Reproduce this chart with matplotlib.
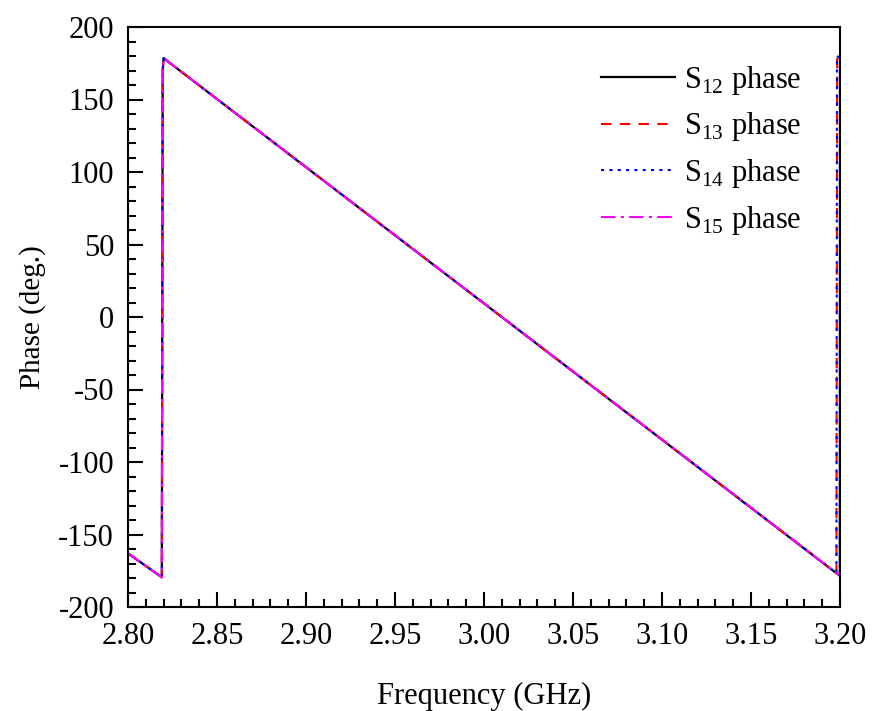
import matplotlib
matplotlib.use("Agg")
import matplotlib.pyplot as plt
from matplotlib.ticker import MultipleLocator

plt.rcParams['font.family'] = ['Liberation Serif', 'DejaVu Serif']
plt.rcParams['mathtext.fontset'] = 'custom'
plt.rcParams['mathtext.rm'] = 'Liberation Serif'
plt.rcParams['axes.unicode_minus'] = False

# Data (frequency in GHz, phase in degrees)
freq_s12 = [2.800, 2.8190, 2.8195, 2.8200, 3.1999, 3.2000]
phase_s12 = [-163.0, -179.5, 170.0, 178.5, -178.5, 180.0]

freq_s13 = [2.800, 2.8190, 2.8195, 2.8200, 3.1980, 3.1984, 3.2000]
phase_s13 = [-163.0, -179.5, 170.0, 178.5, -176.6, 180.0, 178.5]

freq_s14 = [2.800, 2.8190, 2.8195, 2.8200, 3.1980, 3.1983, 3.2000]
phase_s14 = [-163.0, -179.5, 170.0, 178.5, -176.6, 180.0, 178.5]

freq_s15 = [2.800, 2.8190, 2.8195, 2.8200, 3.2000]
phase_s15 = [-163.0, -179.5, 170.0, 178.5, -178.5]

labels = ['S$_{12}$ phase', 'S$_{13}$ phase', 'S$_{14}$ phase', 'S$_{15}$ phase']

fig = plt.figure(figsize=(8.75, 7.11), dpi=100)
ax = fig.add_axes([128/875, 1 - 607/711, (840-128)/875, (607-27)/711])

ax.plot(freq_s12, phase_s12, color='black', lw=1.6, ls='-', label=labels[0])
ax.plot(freq_s13, phase_s13, color='red', lw=1.5, ls=(0, (5, 4)), label=labels[1])
ax.plot(freq_s14, phase_s14, color='blue', lw=1.5, ls=(0, (1.5, 2.5)), label=labels[2])
ax.plot(freq_s15, phase_s15, color='magenta', lw=1.5, ls=(0, (7, 2.5, 1.5, 2.5)), label=labels[3])

ax.set_xlim(2.80, 3.20)
ax.set_ylim(-200, 200)
ax.xaxis.set_major_locator(MultipleLocator(0.05))
ax.xaxis.set_minor_locator(MultipleLocator(0.01))
ax.yaxis.set_major_locator(MultipleLocator(50))
ax.yaxis.set_minor_locator(MultipleLocator(10))
ax.xaxis.set_major_formatter(matplotlib.ticker.FormatStrFormatter('%.2f'))

ax.tick_params(which='both', direction='in', top=False, right=False, labelsize=22)
ax.tick_params(which='major', length=11, width=1.5)
ax.tick_params(which='minor', length=6, width=1.5)
ax.tick_params(axis='x', pad=11)
ax.tick_params(axis='y', pad=10)
for s in ax.spines.values():
    s.set_linewidth(1.5)

ax.set_xlabel('Frequency (GHz)', fontsize=22, labelpad=22)
ax.set_ylabel('Phase (deg.)', fontsize=21, labelpad=9)

ax.legend(loc='upper right', frameon=False, fontsize=22, handlelength=2.4,
          handletextpad=0.3, labelspacing=0.45, borderaxespad=0,
          bbox_to_anchor=(0.963, 0.958))

fig.savefig('out.png', dpi=100)
